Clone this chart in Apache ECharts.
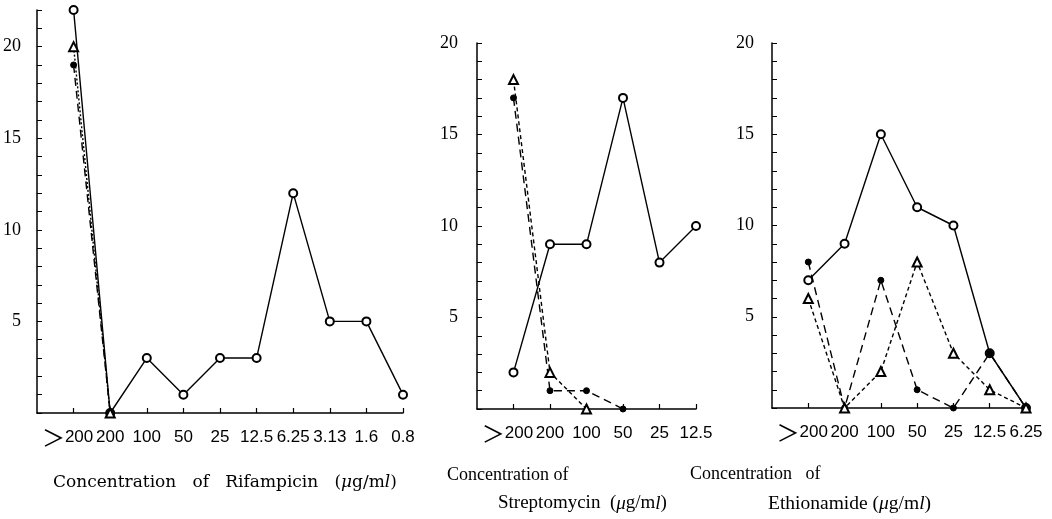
<!DOCTYPE html>
<html>
<head>
<meta charset="utf-8">
<script src="https://cdn.jsdelivr.net/npm/echarts@6/dist/echarts.min.js"></script>
<style>
  html, body { margin: 0; padding: 0; background: #fff; }
  #chart { width: 1052px; height: 519px; }
</style>
</head>
<body>
<div id="chart"></div>
<script>
// Rifampicin panel
const rifCats = ['>200', '200', '100', '50', '25', '12.5', '6.25', '3.13', '1.6', '0.8'];
const rifOpen = [22, 0, 3, 1, 3, 3, 12, 5, 5, 1];
const rifTri = [20, 0];
const rifDot = [19, 0];

// Streptomycin panel
const strepCats = ['>200', '200', '100', '50', '25', '12.5'];
const strepOpen = [2, 9, 9, 17, 8, 10];
const strepTri = [18, 2, 0];
const strepDot = [17, 1, 1, 0];

// Ethionamide panel
const ethCats = ['>200', '200', '100', '50', '25', '12.5', '6.25'];
const ethOpen = [7, 9, 15, 11, 10, 3, 0];
const ethDot = [8, 0, 7, 1, 0, 3, 0];
const ethTri = [6, 0, 2, 8, 3, 1, 0];

const yLabels = [5, 10, 15, 20];

const serif = '"Liberation Serif", "DejaVu Serif", serif';

// a blank first slot keeps a gap between the y axis and the first concentration
function pairs(arr) {
    return arr.map((v, i) => [i + 1, v]);
}

function xAxis(idx, cats) {
    return {
        type: 'category',
        gridIndex: idx,
        data: [''].concat(cats),
        boundaryGap: false,
        axisLine: { lineStyle: { color: '#000', width: 1.5 } },
        axisTick: {
            inside: true, length: 5,
            interval: i => i > 0,
            lineStyle: { color: '#000', width: 1.2 }
        },
        splitLine: { show: false },
        axisLabel: {
            interval: 0,
            margin: 12,
            formatter: function (c) {
                if (c === '') return '';
                if (c.charAt(0) === '>') return '{g|＞}{m|' + c.slice(1) + '}';
                return '{n|' + c + '}';
            },
            rich: {
                n: { fontFamily: '"Liberation Sans", sans-serif', fontSize: 17, lineHeight: 24, verticalAlign: 'middle', color: '#000' },
                m: { fontFamily: '"Liberation Sans", sans-serif', fontSize: 17, lineHeight: 24, verticalAlign: 'middle', color: '#000', padding: [0, 12, 0, 0] },
                g: { fontFamily: '"Noto Sans CJK JP", sans-serif', fontSize: 23, lineHeight: 24, verticalAlign: 'middle', color: '#000' }
            }
        }
    };
}

function yAxis(idx, max, margin) {
    return {
        type: 'value',
        gridIndex: idx,
        min: 0,
        max: max,
        interval: 1,
        axisLine: { show: true, lineStyle: { color: '#000', width: 1.5 } },
        axisTick: { show: true, inside: true, length: 5, lineStyle: { color: '#000', width: 1 } },
        splitLine: { show: false },
        axisLabel: {
            margin: margin,
            fontFamily: serif,
            fontSize: 18,
            color: '#000',
            formatter: v => (yLabels.indexOf(v) >= 0 ? String(v) : '')
        }
    };
}

function line(idx, data, kind) {
    const s = {
        type: 'line',
        xAxisIndex: idx,
        yAxisIndex: idx,
        data: pairs(data),
        clip: false,
        animation: false,
        lineStyle: { color: '#000', width: 1.4 },
        itemStyle: { color: '#000', borderColor: '#000' }
    };
    if (kind === 'open') {
        s.symbol = 'emptyCircle';
        s.symbolSize = 8;
        s.itemStyle.borderWidth = 1.4;
        s.z = 3;
    } else if (kind === 'dot') {
        s.symbol = 'circle';
        s.symbolSize = 6;
        s.lineStyle.type = [8, 5];
        s.z = 4;
    } else {
        s.symbol = 'emptyTriangle';
        s.symbolSize = 9;
        s.itemStyle.borderWidth = 1.4;
        s.lineStyle.type = kind === 'triDot' ? [2, 2] : [4, 3];
        s.z = 5;
    }
    return s;
}

function title(text, left, top, font, size) {
    return {
        text: text,
        left: left,
        top: top,
        padding: 0,
        textStyle: {
            fontFamily: font,
            fontSize: size,
            fontWeight: 'normal',
            color: '#000',
            rich: {
                t: { fontFamily: font, fontSize: size, color: '#000' },
                i: { fontFamily: font, fontSize: size, fontStyle: 'italic', color: '#000' }
            }
        }
    };
}

const chart = echarts.init(document.getElementById('chart'));

chart.setOption({
    backgroundColor: '#fff',
    animation: false,
    title: [
        title('{t|Concentration   of   Rifampicin   (}{i|μ}{t|g/m}{i|l}{t|)}', 53, 474, '"DejaVu Serif", serif', 17),
        title('{t|Concentration of}', 447, 466, serif, 18),
        title('{t|Streptomycin  (}{i|μ}{t|g/m}{i|l}{t|)}', 498, 494, serif, 19),
        title('{t|Concentration   of}', 690, 465, serif, 18),
        title('{t|Ethionamide (}{i|μ}{t|g/m}{i|l}{t|)}', 768, 494, serif, 19.5)
    ],
    grid: [
        { left: 36, top: 10, width: 367, height: 403 },
        { left: 477, top: 43, width: 219, height: 366 },
        { left: 772, top: 43, width: 254, height: 365 }
    ],
    xAxis: [
        xAxis(0, rifCats),
        xAxis(1, strepCats),
        xAxis(2, ethCats)
    ],
    yAxis: [
        yAxis(0, 22, 16),
        yAxis(1, 20, 19),
        yAxis(2, 20, 18)
    ],
    series: [
        line(0, rifOpen, 'open'),
        line(0, rifDot, 'dot'),
        line(0, rifTri, 'triDot'),
        line(1, strepOpen, 'open'),
        line(1, strepDot, 'dot'),
        line(1, strepTri, 'tri'),
        line(2, ethOpen, 'open'),
        line(2, ethDot, 'dot'),
        line(2, ethTri, 'tri')
    ]
});
</script>
</body>
</html>
